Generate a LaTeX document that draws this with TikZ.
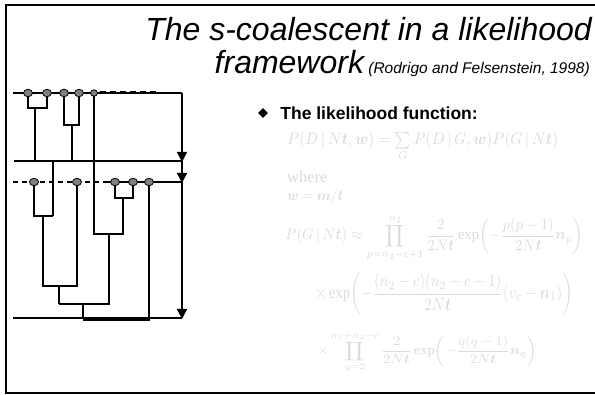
\documentclass[tikz,border=0pt]{standalone}
\usepackage{amsmath,amssymb}
\usepackage{fontspec}
\setmainfont{Liberation Serif}
\setsansfont{Liberation Sans}
\usepackage{tikz}
\usetikzlibrary{positioning,arrows.meta,shapes.geometric}
\definecolor{faint}{gray}{0.86}
\definecolor{dotgray}{gray}{0.5}
\newcommand{\bt}{\boldsymbol{t}}

\tikzset{
  lineage/.style={line width=1.3pt},
  sample/.style={ellipse, draw, line width=0.8pt, fill=dotgray, minimum width=9pt, minimum height=7.5pt, inner sep=0pt},
  timearrow/.style={line width=1.3pt, -{Triangle[length=10pt,width=10pt]}},
  formula/.style={anchor=west, text=faint, inner sep=0pt},
}

\begin{document}
\begin{tikzpicture}[x=1pt,y=-1pt]
\useasboundingbox (0,0) rectangle (595,395);
\draw[line width=2pt] (595,5) -- (6,5) -- (6,393) -- (595,393);

% sampling times
\draw[lineage] (13,93) -- (182,93);
\draw[lineage, dash pattern=on 6pt off 4pt] (100,92) -- (157,92);
\draw[lineage] (14,161) -- (182,161);
\draw[lineage, dash pattern=on 5pt off 4pt] (13,182) -- (108,182);
\draw[lineage] (108,182) -- (182,182);
\draw[lineage] (13,318) -- (182,318);

\draw[timearrow] (182,93) -- (182,162);
\draw[timearrow] (182,161) -- (182,183);
\draw[timearrow] (182,182) -- (182,319);

% samples
\coordinate (t1) at (28,93);
\coordinate (t2) at (47,93);
\coordinate (t3) at (64,93);
\coordinate (t4) at (79,93);
\coordinate (t5) at (94,93);
\coordinate (b1) at (34,182);
\coordinate (b2) at (77,182);
\coordinate (b3) at (115,182);
\coordinate (b4) at (133,182);
\coordinate (b5) at (149,182);

% genealogy
\draw[lineage] (t1) |- (47,108) -- (t2);
\draw[lineage] (35,108) -- (35,161);
\draw[lineage] (t3) |- (79,125) -- (t4);
\draw[lineage] (72,125) -- (72,161);
\draw[lineage] (53,161) -- (53,216);
\draw[lineage] (b1) |- (53,216);
\draw[lineage] (43,216) |- (77,286) -- (b2);
\draw[lineage] (59,286) -- (59,304);
\draw[lineage] (b3) |- (133,198) -- (b4);
\draw[lineage] (t5) |- (123,234) -- (123,198);
\draw[lineage] (109,234) |- (59,304);
\draw[lineage] (83,304) -- (83,319);
\draw[lineage] (b5) -- (149,319);
\draw[line width=2.6pt] (83,319.5) -- (150,319.5);

\foreach \s in {t1,t2,t3,t4,b1,b2,b3,b4,b5}
  \node[sample] (n\s) at (\s) {};
\node[sample, minimum width=7pt, minimum height=6.5pt] (nt5) at (t5) {};

% title
\node[anchor=base east, inner sep=0pt, font=\sffamily\itshape\fontsize{32}{36}\selectfont] (title) at (592,41) {The s-coalescent in a likelihood};
\node[anchor=base east, inner sep=0pt, font=\sffamily\itshape\fontsize{32}{36}\selectfont] (title2) at (590,74) {framework{\fontsize{15.5}{18}\selectfont\ (Rodrigo and Felsenstein, 1998)}};

\node[diamond, fill=black, inner sep=0pt, minimum size=10pt] (bullet) at (263,113) {};
\node[inner sep=0pt, right=12pt of bullet, font=\sffamily\bfseries\fontsize{17.5}{20}\selectfont] (lik) {The likelihood function:};

% likelihood formulas
\node[formula] (f1) at (287,147) {\resizebox*{271pt}{29pt}{$P(D\,|\,N\bt,\boldsymbol{w})=\sum\limits_G P(D\,|\,G,\boldsymbol{w})P(G\,|\,N\bt)$}};
\node[formula, font=\fontsize{16.5}{19}\selectfont] (where) at (287,177) {where};
\node[formula] (wdef) at (287,197) {\resizebox*{56pt}{15pt}{$\boldsymbol{w}=\boldsymbol{m}/\bt$}};
\node[formula] (f2) at (285,238) {\resizebox*{298pt}{47pt}{$\displaystyle P(G\,|\,N\bt)\approx\prod_{p=n_2-c+1}^{n_2}\frac{2}{2N\bt}\exp\!\left(-\frac{p(p-1)}{2N\bt}\boldsymbol{n}_p\right)$}};
\node[formula] (f3) at (315,294) {\resizebox*{258pt}{42pt}{$\displaystyle \times\exp\!\left(-\frac{(n_2-c)(n_2-c-1)}{2N\bt}(v_c-\boldsymbol{n}_1)\right)$}};
\node[formula] (f4) at (317,352) {\resizebox*{220pt}{42pt}{$\displaystyle \times\prod_{q=2}^{n_1+n_2-c}\frac{2}{2N\bt}\exp\!\left(-\frac{q(q-1)}{2N\bt}\boldsymbol{n}_q\right)$}};
\end{tikzpicture}
\end{document}
